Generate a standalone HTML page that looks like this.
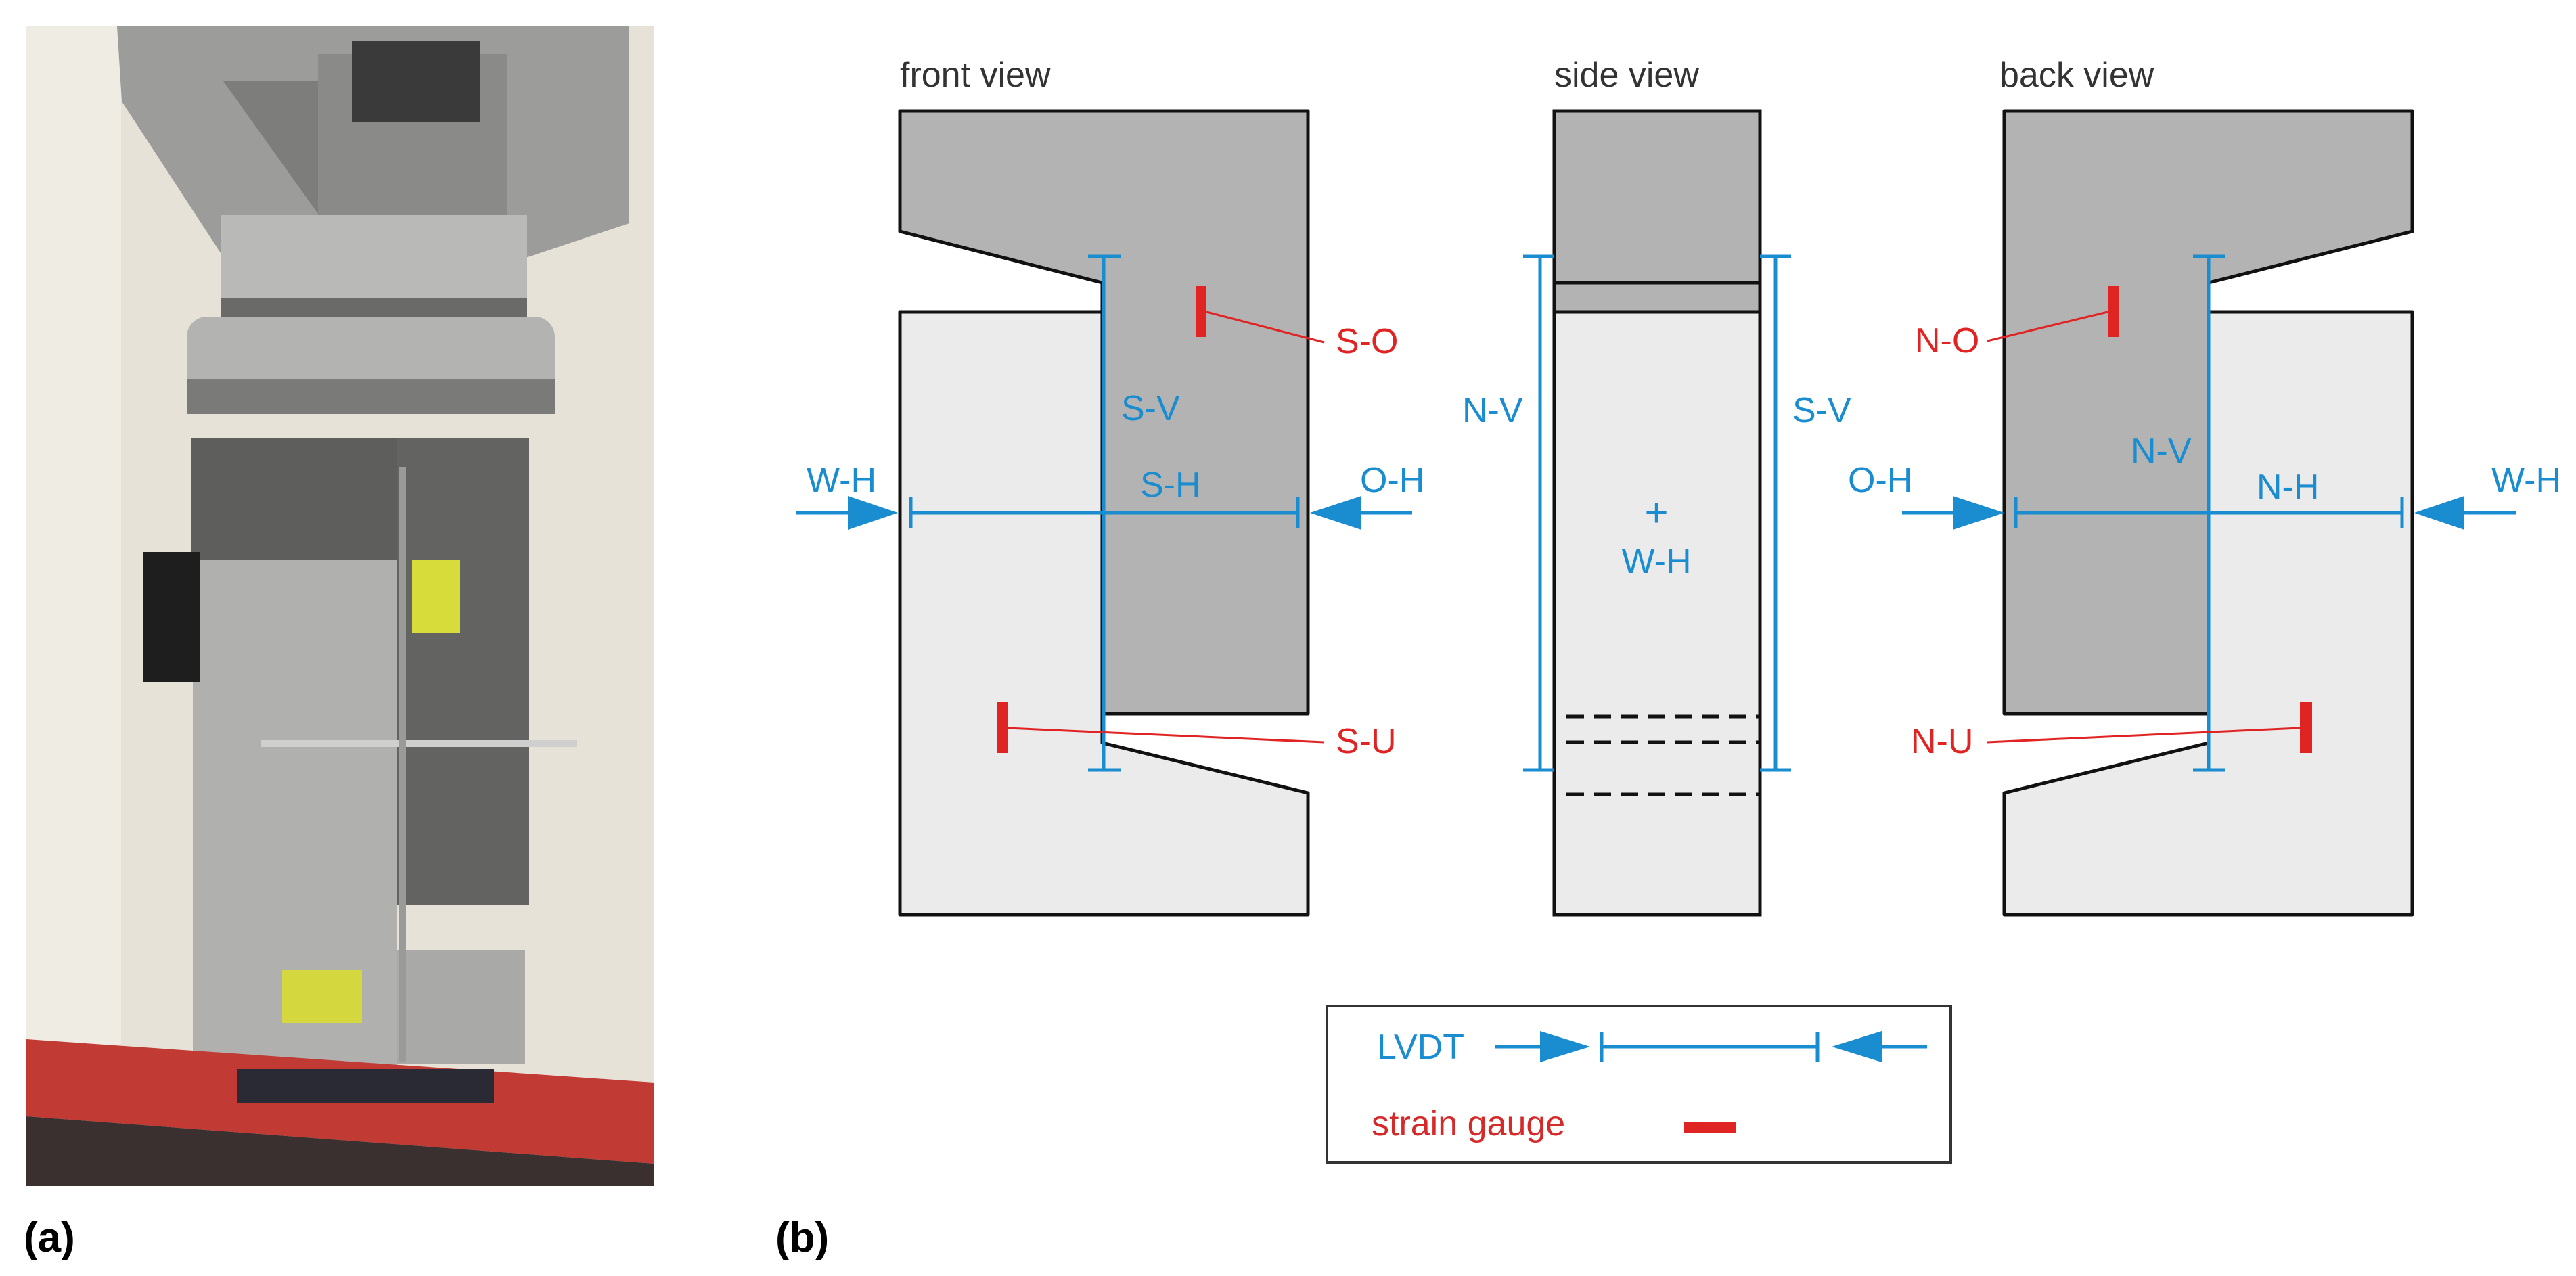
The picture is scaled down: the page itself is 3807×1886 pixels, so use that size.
<!DOCTYPE html>
<html><head><meta charset="utf-8"><style>
html,body{margin:0;padding:0;background:#fff;}
svg{display:block;}
text{font-family:"Liberation Sans",sans-serif;}
</style></head><body>
<svg width="3807" height="1886" viewBox="0 0 3807 1886" xmlns="http://www.w3.org/2000/svg">
<!-- PHOTO -->
<g>
<rect x="39" y="39" width="928" height="1714" fill="#e6e2d8"/>
<rect x="39" y="39" width="140" height="1714" fill="#efece4"/>
<polygon points="173,39 930,39 930,330 780,380 330,380 180,150" fill="#9c9c9a"/>
<polygon points="330,120 560,120 640,300 480,330" fill="#7d7d7b"/>
<rect x="470" y="80" width="280" height="240" fill="#8a8a88"/>
<rect x="520" y="60" width="190" height="120" fill="#3a3a3a"/>
<rect x="327" y="318" width="452" height="160" fill="#b9b9b7"/>
<rect x="327" y="440" width="452" height="30" fill="#6a6a68"/>
<rect x="276" y="468" width="544" height="144" rx="30" fill="#b3b3b1"/>
<rect x="276" y="560" width="544" height="52" fill="#7a7a78"/>
<rect x="282" y="648" width="497" height="192" fill="#5e5e5c"/>
<rect x="587" y="648" width="195" height="690" fill="#636361"/>
<rect x="285" y="828" width="302" height="756" fill="#b0b0ae"/>
<rect x="587" y="1404" width="189" height="168" fill="#a9a9a7"/>
<rect x="212" y="816" width="83" height="192" fill="#1e1e1e"/>
<rect x="609" y="828" width="71" height="108" fill="#d8dc3a"/>
<rect x="417" y="1434" width="118" height="78" fill="#d4d83e"/>
<rect x="385" y="1094" width="468" height="10" fill="#cfcfcf"/>
<rect x="590" y="690" width="10" height="880" fill="#9a9a98"/>
<polygon points="39,1536 967,1600 967,1720 39,1650" fill="#c23a34"/>
<polygon points="39,1650 967,1720 967,1753 39,1753" fill="#3a3030"/>
<rect x="350" y="1580" width="380" height="50" fill="#2a2a35"/>
</g>
<text x="35" y="1850" font-family="Liberation Serif,serif" font-weight="bold" font-size="62" fill="#000">(a)</text>
<text x="1146" y="1850" font-family="Liberation Serif,serif" font-weight="bold" font-size="62" fill="#000">(b)</text>

<!-- titles -->
<text x="1330" y="128" font-size="52" fill="#333">front view</text>
<text x="2297" y="128" font-size="52" fill="#333">side view</text>
<text x="2955" y="128" font-size="52" fill="#333">back view</text>

<!-- FRONT VIEW -->
<g stroke="#111" stroke-width="5" stroke-linejoin="round">
<polygon points="1330,461 1629,461 1629,1098 1933,1172 1933,1352 1330,1352" fill="#eaebea"/>
<polygon points="1330,164 1933,164 1933,1055 1629,1055 1629,418 1330,342" fill="#b2b3b2"/>
</g>
<g stroke="#1a8cd0" stroke-width="5" fill="none">
<line x1="1631" y1="379" x2="1631" y2="1138"/>
<line x1="1608" y1="379" x2="1657" y2="379"/>
<line x1="1608" y1="1138" x2="1657" y2="1138"/>
<line x1="1346" y1="758" x2="1918" y2="758"/>
<line x1="1346" y1="735" x2="1346" y2="781"/>
<line x1="1918" y1="735" x2="1918" y2="781"/>
<line x1="1177" y1="758" x2="1260" y2="758"/>
<line x1="2005" y1="758" x2="2087" y2="758"/>
</g>
<g fill="#1a8cd0">
<polygon points="1253,733 1327,758 1253,783"/>
<polygon points="2012,733 1936,758 2012,783"/>
<text x="1192" y="727" font-size="52">W-H</text>
<text x="2010" y="727" font-size="52">O-H</text>
<text x="1685" y="734" font-size="52">S-H</text>
<text x="1657" y="621" font-size="52">S-V</text>
</g>
<g fill="#e02424">
<rect x="1767" y="423" width="16" height="75"/>
<rect x="1473" y="1038" width="16" height="75"/>
<text x="1974" y="522" font-size="52">S-O</text>
<text x="1974" y="1113" font-size="52">S-U</text>
</g>
<g stroke="#e02424" stroke-width="3">
<line x1="1783" y1="461" x2="1957" y2="506"/>
<line x1="1489" y1="1076" x2="1957" y2="1097"/>
</g>

<!-- SIDE VIEW -->
<g stroke="#111" stroke-width="5">
<rect x="2297" y="164" width="304" height="1188" fill="#eaebea"/>
<rect x="2297" y="164" width="304" height="297" fill="#b2b3b2"/>
<line x1="2297" y1="418" x2="2601" y2="418"/>
</g>
<g stroke="#111" stroke-width="5" stroke-dasharray="26,14">
<line x1="2315" y1="1059" x2="2601" y2="1059"/>
<line x1="2315" y1="1097" x2="2601" y2="1097"/>
<line x1="2315" y1="1174" x2="2601" y2="1174"/>
</g>
<g stroke="#1a8cd0" stroke-width="5">
<line x1="2276" y1="379" x2="2276" y2="1138"/>
<line x1="2251" y1="379" x2="2297" y2="379"/>
<line x1="2251" y1="1138" x2="2297" y2="1138"/>
<line x1="2624" y1="379" x2="2624" y2="1138"/>
<line x1="2601" y1="379" x2="2647" y2="379"/>
<line x1="2601" y1="1138" x2="2647" y2="1138"/>
</g>
<g fill="#1a8cd0">
<text x="2161" y="624" font-size="52">N-V</text>
<text x="2649" y="624" font-size="52">S-V</text>
<text x="2448" y="778" font-size="60" text-anchor="middle">+</text>
<text x="2448" y="847" font-size="52" text-anchor="middle">W-H</text>
</g>

<!-- BACK VIEW -->
<g stroke="#111" stroke-width="5" stroke-linejoin="round">
<polygon points="3264,461 3565,461 3565,1352 2962,1352 2962,1172 3264,1098" fill="#eaebea"/>
<polygon points="2962,164 3565,164 3565,342 3264,418 3264,1055 2962,1055" fill="#b2b3b2"/>
</g>
<g stroke="#1a8cd0" stroke-width="5" fill="none">
<line x1="3264" y1="379" x2="3264" y2="1138"/>
<line x1="3241" y1="379" x2="3289" y2="379"/>
<line x1="3241" y1="1138" x2="3289" y2="1138"/>
<line x1="2979" y1="758" x2="3550" y2="758"/>
<line x1="2979" y1="735" x2="2979" y2="781"/>
<line x1="3550" y1="735" x2="3550" y2="781"/>
<line x1="2811" y1="758" x2="2890" y2="758"/>
<line x1="3640" y1="758" x2="3719" y2="758"/>
</g>
<g fill="#1a8cd0">
<polygon points="2886,733 2962,758 2886,783"/>
<polygon points="3642,733 3568,758 3642,783"/>
<text x="2731" y="727" font-size="52">O-H</text>
<text x="3682" y="727" font-size="52">W-H</text>
<text x="3335" y="737" font-size="52">N-H</text>
<text x="3149" y="684" font-size="52">N-V</text>
</g>
<g fill="#e02424">
<rect x="3115" y="423" width="16" height="75"/>
<rect x="3399" y="1038" width="18" height="75"/>
<text x="2830" y="521" font-size="52">N-O</text>
<text x="2824" y="1113" font-size="52">N-U</text>
</g>
<g stroke="#e02424" stroke-width="3">
<line x1="2937" y1="504" x2="3115" y2="461"/>
<line x1="2937" y1="1097" x2="3399" y2="1076"/>
</g>

<!-- LEGEND -->
<rect x="1961" y="1487" width="922" height="231" fill="#fff" stroke="#333" stroke-width="4"/>
<text x="2035" y="1565" font-size="52" fill="#1a8cd0">LVDT</text>
<g stroke="#1a8cd0" stroke-width="5">
<line x1="2209" y1="1547" x2="2280" y2="1547"/>
<line x1="2367" y1="1547" x2="2686" y2="1547"/>
<line x1="2367" y1="1525" x2="2367" y2="1570"/>
<line x1="2686" y1="1525" x2="2686" y2="1570"/>
<line x1="2778" y1="1547" x2="2848" y2="1547"/>
</g>
<polygon points="2276,1524 2350,1547 2276,1570" fill="#1a8cd0"/>
<polygon points="2781,1524 2707,1547 2781,1570" fill="#1a8cd0"/>
<text x="2027" y="1678" font-size="52" fill="#d42a2a">strain gauge</text>
<rect x="2489" y="1658" width="76" height="16" fill="#e02424"/>
</svg>
</body></html>
